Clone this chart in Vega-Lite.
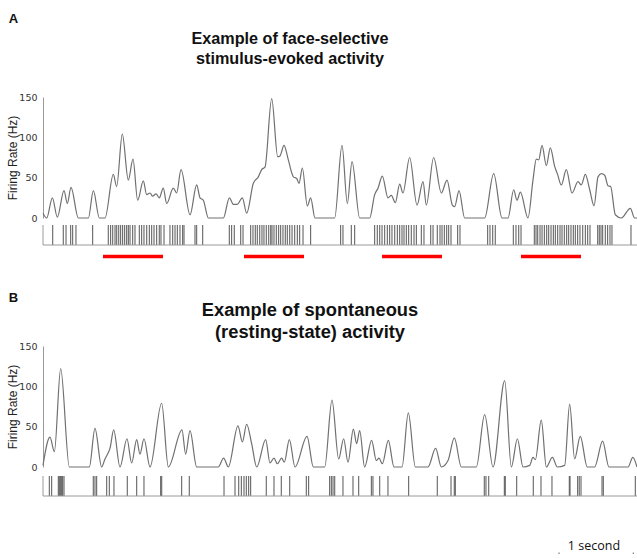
{
  "$schema": "https://vega.github.io/schema/vega-lite/v6.json",
  "padding": {"left": 6, "top": 12, "right": 0, "bottom": 0},
  "background": "white",
  "config": {
    "view": {"stroke": null},
    "axis": {"domainColor": "#9a9a9a", "ticks": false, "grid": false, "labelFont": "DejaVu Sans", "labelFontSize": 9.5, "labelColor": "#333", "labelPadding": 6, "titleFont": "Liberation Sans", "titleFontSize": 12, "titleFontWeight": "normal", "titleColor": "#222", "titlePadding": -1}
  },
  "datasets": {
    "rateA": [
      {"t":0,"rate":6},{"t":0.05,"rate":0},{"t":0.126,"rate":25},{"t":0.193,"rate":1},{"t":0.283,"rate":34},{"t":0.328,"rate":18},{"t":0.377,"rate":38},{"t":0.476,"rate":0},{"t":0.611,"rate":0},{"t":0.678,"rate":34},{"t":0.759,"rate":0},{"t":0.835,"rate":0},{"t":0.947,"rate":54},{"t":0.992,"rate":39},{"t":1.068,"rate":104},{"t":1.149,"rate":47},{"t":1.212,"rate":73},{"t":1.275,"rate":22},{"t":1.351,"rate":46},{"t":1.396,"rate":29},{"t":1.441,"rate":31},{"t":1.477,"rate":27},{"t":1.522,"rate":30},{"t":1.566,"rate":25},{"t":1.62,"rate":37},{"t":1.666,"rate":18},{"t":1.755,"rate":37},{"t":1.8,"rate":31},{"t":1.859,"rate":60},{"t":1.98,"rate":4},{"t":2.07,"rate":41},{"t":2.114,"rate":25},{"t":2.159,"rate":22},{"t":2.227,"rate":0},{"t":2.429,"rate":0},{"t":2.51,"rate":25},{"t":2.563,"rate":17},{"t":2.617,"rate":17},{"t":2.685,"rate":25},{"t":2.743,"rate":6},{"t":2.833,"rate":43},{"t":2.9,"rate":51},{"t":2.945,"rate":60},{"t":2.99,"rate":63},{"t":3.08,"rate":148},{"t":3.161,"rate":76},{"t":3.192,"rate":77},{"t":3.246,"rate":90},{"t":3.304,"rate":72},{"t":3.372,"rate":51},{"t":3.417,"rate":49},{"t":3.448,"rate":43},{"t":3.493,"rate":62},{"t":3.56,"rate":15},{"t":3.605,"rate":25},{"t":3.663,"rate":0},
      {"t":3.928,"rate":0},{"t":4.027,"rate":90},{"t":4.099,"rate":18},{"t":4.162,"rate":70},{"t":4.265,"rate":0},{"t":4.4,"rate":0},{"t":4.467,"rate":29},{"t":4.512,"rate":37},{"t":4.57,"rate":52},{"t":4.646,"rate":25},{"t":4.691,"rate":28},{"t":4.745,"rate":19},{"t":4.804,"rate":42},{"t":4.848,"rate":31},{"t":4.938,"rate":75},{"t":5.037,"rate":16},{"t":5.118,"rate":45},{"t":5.163,"rate":16},{"t":5.261,"rate":75},{"t":5.365,"rate":31},{"t":5.441,"rate":47},{"t":5.513,"rate":16},{"t":5.544,"rate":14},{"t":5.603,"rate":34},{"t":5.679,"rate":0},{"t":5.948,"rate":0},{"t":6.07,"rate":55},{"t":6.182,"rate":0},{"t":6.263,"rate":0},{"t":6.339,"rate":35},{"t":6.384,"rate":22},{"t":6.429,"rate":32},{"t":6.532,"rate":0},{"t":6.599,"rate":47},{"t":6.644,"rate":73},{"t":6.676,"rate":72},{"t":6.721,"rate":90},{"t":6.779,"rate":65},{"t":6.833,"rate":87},{"t":6.891,"rate":64},{"t":6.927,"rate":55},{"t":6.981,"rate":41},{"t":7.048,"rate":60},{"t":7.125,"rate":31},{"t":7.205,"rate":45},{"t":7.25,"rate":41},{"t":7.304,"rate":54},{"t":7.363,"rate":35},{"t":7.421,"rate":15},{"t":7.475,"rate":51},{"t":7.52,"rate":55},{"t":7.565,"rate":53},{"t":7.609,"rate":40},{"t":7.645,"rate":39},{"t":7.708,"rate":4},{"t":7.789,"rate":0},{"t":7.91,"rate":12},{"t":7.968,"rate":0},{"t":8.0,"rate":0}
    ],
    "rateB": [
      {"t":0,"rate":2},{"t":0.094,"rate":37},{"t":0.153,"rate":19},{"t":0.238,"rate":122},{"t":0.355,"rate":0},{"t":0.624,"rate":0},{"t":0.7,"rate":48},{"t":0.79,"rate":0},{"t":0.835,"rate":10},{"t":0.88,"rate":18},{"t":0.902,"rate":23},{"t":0.952,"rate":46},{"t":1.037,"rate":0},{"t":1.131,"rate":35},{"t":1.194,"rate":5},{"t":1.262,"rate":34},{"t":1.306,"rate":16},{"t":1.36,"rate":35},{"t":1.441,"rate":0},{"t":1.598,"rate":79},{"t":1.688,"rate":0},{"t":1.872,"rate":46},{"t":1.921,"rate":16},{"t":1.98,"rate":45},{"t":2.07,"rate":0},{"t":2.361,"rate":0},{"t":2.433,"rate":11},{"t":2.496,"rate":0},{"t":2.626,"rate":51},{"t":2.685,"rate":31},{"t":2.743,"rate":53},{"t":2.81,"rate":29},{"t":2.878,"rate":0},{"t":2.999,"rate":34},{"t":3.057,"rate":5},{"t":3.111,"rate":11},{"t":3.156,"rate":4},{"t":3.214,"rate":11},{"t":3.25,"rate":6},{"t":3.318,"rate":34},{"t":3.394,"rate":0},{"t":3.556,"rate":38},{"t":3.641,"rate":0},
      {"t":3.794,"rate":0},{"t":3.892,"rate":83},{"t":3.982,"rate":10},{"t":4.049,"rate":35},{"t":4.108,"rate":6},{"t":4.18,"rate":47},{"t":4.224,"rate":29},{"t":4.265,"rate":45},{"t":4.332,"rate":0},{"t":4.426,"rate":33},{"t":4.489,"rate":8},{"t":4.525,"rate":11},{"t":4.57,"rate":4},{"t":4.651,"rate":33},{"t":4.727,"rate":0},{"t":4.835,"rate":0},{"t":4.92,"rate":67},{"t":5.015,"rate":0},{"t":5.185,"rate":0},{"t":5.288,"rate":23},{"t":5.365,"rate":0},{"t":5.455,"rate":8},{"t":5.54,"rate":36},{"t":5.634,"rate":0},{"t":5.836,"rate":0},{"t":5.948,"rate":65},{"t":6.061,"rate":0},{"t":6.218,"rate":107},{"t":6.308,"rate":0},{"t":6.389,"rate":35},{"t":6.465,"rate":0},{"t":6.555,"rate":2},{"t":6.599,"rate":12},{"t":6.631,"rate":9},{"t":6.711,"rate":58},{"t":6.779,"rate":0},{"t":6.86,"rate":12},{"t":6.927,"rate":0},{"t":7.026,"rate":2},{"t":7.093,"rate":78},{"t":7.16,"rate":10},{"t":7.236,"rate":38},{"t":7.33,"rate":0},{"t":7.429,"rate":0},{"t":7.537,"rate":32},{"t":7.622,"rate":0},{"t":7.879,"rate":0},{"t":7.944,"rate":12},{"t":8.0,"rate":0}
    ],
    "spikesA": [
      {"t":0.131},{"t":0.273},{"t":0.31},{"t":0.373},{"t":0.4},{"t":0.444},{"t":0.669},{"t":0.879},{"t":0.911},{"t":0.939},{"t":0.97},{"t":0.993},{"t":1.02},{"t":1.046},{"t":1.073},{"t":1.1},{"t":1.127},{"t":1.149},{"t":1.172},{"t":1.208},{"t":1.239},{"t":1.297},{"t":1.329},{"t":1.36},{"t":1.397},{"t":1.432},{"t":1.464},{"t":1.495},{"t":1.531},{"t":1.566},{"t":1.589},{"t":1.63},{"t":1.71},{"t":1.747},{"t":1.778},{"t":1.809},{"t":1.845},{"t":1.881},{"t":1.899},{"t":2.047},{"t":2.07},{"t":2.151},{"t":2.509},{"t":2.541},{"t":2.576},{"t":2.663},{"t":2.694},{"t":2.797},{"t":2.828},{"t":2.859},{"t":2.886},{"t":2.919},{"t":2.949},{"t":2.976},{"t":3.007},{"t":3.04},{"t":3.067},{"t":3.084},{"t":3.111},{"t":3.142},{"t":3.174},{"t":3.201},{"t":3.232},{"t":3.263},{"t":3.29},{"t":3.323},{"t":3.354},{"t":3.39},{"t":3.425},{"t":3.457},{"t":3.502},{"t":3.605},{"t":4.009},{"t":4.04},{"t":4.152},{"t":4.198},{"t":4.467},{"t":4.502},{"t":4.535},{"t":4.566},{"t":4.602},{"t":4.637},{"t":4.669},{"t":4.7},{"t":4.737},{"t":4.772},{"t":4.804},{"t":4.835},{"t":4.862},{"t":4.893},{"t":4.925},{"t":4.96},{"t":4.997},{"t":5.028},{"t":5.095},{"t":5.131},{"t":5.222},{"t":5.253},{"t":5.31},{"t":5.347},{"t":5.374},{"t":5.405},{"t":5.437},{"t":5.464},{"t":5.495},{"t":5.585},{"t":5.616},{"t":5.989},{"t":6.02},{"t":6.057},{"t":6.091},{"t":6.334},{"t":6.37},{"t":6.407},{"t":6.438},{"t":6.617},{"t":6.64},{"t":6.663},{"t":6.694},{"t":6.721},{"t":6.752},{"t":6.784},{"t":6.811},{"t":6.842},{"t":6.873},{"t":6.9},{"t":6.932},{"t":6.963},{"t":6.99},{"t":7.021},{"t":7.053},{"t":7.08},{"t":7.111},{"t":7.142},{"t":7.169},{"t":7.201},{"t":7.232},{"t":7.269},{"t":7.304},{"t":7.336},{"t":7.367},{"t":7.471},{"t":7.492},{"t":7.515},{"t":7.538},{"t":7.573},{"t":7.605},{"t":7.636},{"t":7.663},{"t":7.919}
    ],
    "spikesB": [
      {"t":0.085},{"t":0.117},{"t":0.206},{"t":0.22},{"t":0.238},{"t":0.252},{"t":0.265},{"t":0.283},{"t":0.677},{"t":0.7},{"t":0.723},{"t":0.858},{"t":0.893},{"t":0.956},{"t":1.135},{"t":1.262},{"t":1.36},{"t":1.585},{"t":1.599},{"t":1.868},{"t":1.97},{"t":2.438},{"t":2.586},{"t":2.636},{"t":2.671},{"t":2.707},{"t":2.738},{"t":2.77},{"t":2.797},{"t":3.007},{"t":3.111},{"t":3.209},{"t":3.323},{"t":3.546},{"t":3.578},{"t":3.861},{"t":3.883},{"t":3.906},{"t":3.929},{"t":4.04},{"t":4.175},{"t":4.252},{"t":4.422},{"t":4.444},{"t":4.535},{"t":4.646},{"t":4.925},{"t":5.31},{"t":5.495},{"t":5.539},{"t":5.553},{"t":5.943},{"t":5.966},{"t":6.003},{"t":6.213},{"t":6.226},{"t":6.38},{"t":6.603},{"t":6.707},{"t":6.855},{"t":7.088},{"t":7.098},{"t":7.201},{"t":7.222},{"t":7.246},{"t":7.529},{"t":7.546},{"t":7.977}
    ],
    "stim": [
      {"start":0.808,"end":1.616},{"start":2.707,"end":3.515},{"start":4.566,"end":5.374},{"start":6.438,"end":7.246}
    ],
    "scalebar": [
      {"t0":6.95,"t1":7.95,"mid":7.42,"label":"1 second"}
    ]
  },
  "spacing": 30,
  "vconcat": [
    {
      "title": {"text": "A", "anchor": "start", "frame": "bounds", "fontSize": 13, "fontWeight": "bold", "font": "Liberation Sans", "color": "#111", "offset": 5, "dx": 2},
      "bounds": "flush",
      "spacing": 7,
      "vconcat": [
        {
          "width": 594, "height": 121,
          "title": {"text": ["Example of face-selective", "stimulus-evoked activity"], "fontSize": 16.2, "fontWeight": "bold", "font": "Liberation Sans", "color": "#111", "lineHeight": 20, "anchor": "middle", "dx": -50, "offset": 25},
          "data": {"name": "rateA"},
          "mark": {"type": "line", "interpolate": "monotone", "color": "#707070", "strokeWidth": 1.2},
          "encoding": {
            "x": {"field": "t", "type": "quantitative", "scale": {"domain": [0, 8]}, "axis": null},
            "y": {"field": "rate", "type": "quantitative", "scale": {"domain": [0, 150]}, "axis": {"values": [0, 50, 100, 150], "title": "Firing Rate (Hz)"}}
          }
        },
        {
          "width": 594, "height": 36,
          "layer": [
            {
              "data": {"name": "spikesA"},
              "mark": {"type": "rule", "color": "#555", "strokeWidth": 1},
              "encoding": {
                "x": {"field": "t", "type": "quantitative", "scale": {"domain": [0, 8]}, "axis": null},
                "y": {"datum": 0, "type": "quantitative", "scale": {"domain": [-0.64, 1]}, "axis": null},
                "y2": {"datum": 1}
              }
            },
            {
              "data": {"values": [{"edge": "left"}]},
              "mark": {"type": "rule", "color": "#9a9a9a", "strokeWidth": 1},
              "encoding": {"x": {"datum": 0}, "y": {"datum": 0}, "y2": {"datum": 1}}
            },
            {
              "data": {"values": [{"edge": "bottom"}]},
              "mark": {"type": "rule", "color": "#9a9a9a", "strokeWidth": 1},
              "encoding": {"x": {"datum": 0}, "x2": {"datum": 8}, "y": {"datum": 0}}
            },
            {
              "data": {"name": "stim"},
              "mark": {"type": "rule", "color": "#ff0000", "strokeWidth": 3.5},
              "encoding": {"x": {"field": "start", "type": "quantitative"}, "x2": {"field": "end"}, "y": {"datum": -0.58}}
            }
          ]
        }
      ]
    },
    {
      "title": {"text": "B", "anchor": "start", "frame": "bounds", "fontSize": 13, "fontWeight": "bold", "font": "Liberation Sans", "color": "#111", "offset": -4, "dx": 2},
      "bounds": "flush",
      "spacing": 9,
      "vconcat": [
        {
          "width": 594, "height": 121,
          "title": {"text": ["Example of spontaneous", "(resting-state) activity"], "fontSize": 18.3, "fontWeight": "bold", "font": "Liberation Sans", "color": "#111", "lineHeight": 22, "anchor": "middle", "dx": -30, "offset": -1},
          "data": {"name": "rateB"},
          "mark": {"type": "line", "interpolate": "monotone", "color": "#707070", "strokeWidth": 1.2},
          "encoding": {
            "x": {"field": "t", "type": "quantitative", "scale": {"domain": [0, 8]}, "axis": null},
            "y": {"field": "rate", "type": "quantitative", "scale": {"domain": [0, 150]}, "axis": {"values": [0, 50, 100, 150], "title": "Firing Rate (Hz)"}}
          }
        },
        {
          "width": 594, "height": 20,
          "layer": [
            {
              "data": {"name": "spikesB"},
              "mark": {"type": "rule", "color": "#555", "strokeWidth": 1},
              "encoding": {
                "x": {"field": "t", "type": "quantitative", "scale": {"domain": [0, 8]}, "axis": null},
                "y": {"datum": 0, "type": "quantitative", "scale": {"domain": [0, 1]}, "axis": null},
                "y2": {"datum": 1}
              }
            },
            {
              "data": {"values": [{"edge": "left"}]},
              "mark": {"type": "rule", "color": "#9a9a9a", "strokeWidth": 1},
              "encoding": {"x": {"datum": 0}, "y": {"datum": 0}, "y2": {"datum": 1}}
            },
            {
              "data": {"values": [{"edge": "bottom"}]},
              "mark": {"type": "rule", "color": "#9a9a9a", "strokeWidth": 1},
              "encoding": {"x": {"datum": 0}, "x2": {"datum": 8}, "y": {"datum": 0}}
            }
          ]
        },
        {
          "width": 594, "height": 50,
          "data": {"name": "scalebar"},
          "layer": [
            {
              "mark": {"type": "text", "font": "Open Sans", "fontSize": 12.5, "color": "#111"},
              "encoding": {
                "x": {"field": "mid", "type": "quantitative", "scale": {"domain": [0, 8]}, "axis": null},
                "y": {"datum": 0.18, "type": "quantitative", "scale": {"domain": [0, 1]}, "axis": null},
                "text": {"field": "label"}
              }
            },
            {
              "mark": {"type": "rule", "color": "#666", "strokeWidth": 1},
              "encoding": {"x": {"field": "t0", "type": "quantitative"}, "y": {"datum": 0.02}, "y2": {"datum": 0.05}}
            },
            {
              "mark": {"type": "rule", "color": "#666", "strokeWidth": 1},
              "encoding": {"x": {"field": "t1", "type": "quantitative"}, "y": {"datum": 0.02}, "y2": {"datum": 0.05}}
            }
          ]
        }
      ]
    }
  ]
}
